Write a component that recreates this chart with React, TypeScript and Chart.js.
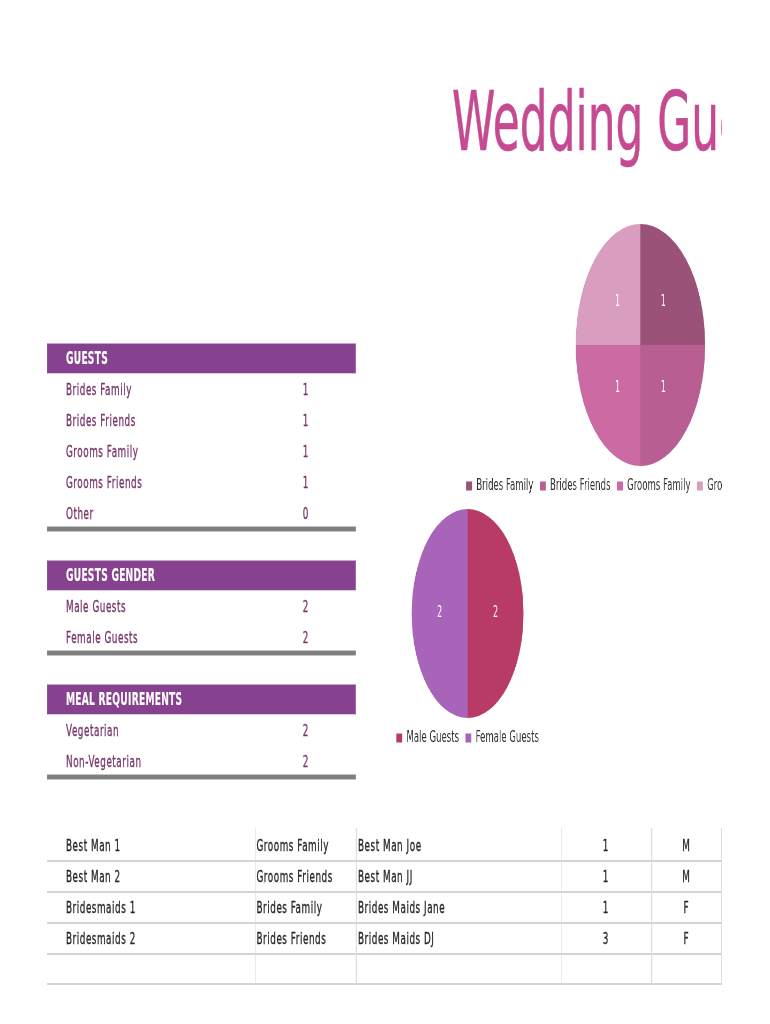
import React, { useEffect, useRef } from "react";
import { Chart, registerables } from "chart.js";
Chart.register(...registerables);

const S = 0.535; // horizontal squash of the whole page

const guestCategories = ["Brides Family", "Brides Friends", "Grooms Family", "Grooms Friends", "Other"];
const guestValues = [1, 1, 1, 1, 0];
const guestColors = ["#9b5279", "#b95e92", "#cc6aa3", "#d99dc0", "#e7bcd5"];

const genderCategories = ["Male Guests", "Female Guests"];
const genderValues = [2, 2];
const genderColors = ["#b83a66", "#a864b9"];

const mealCategories = ["Vegetarian", "Non-Vegetarian"];
const mealValues = [2, 2];

const partyRoles = ["Best Man 1", "Best Man 2", "Bridesmaids 1", "Bridesmaids 2"];
const partySides = ["Grooms Family", "Grooms Friends", "Brides Family", "Brides Friends"];
const partyNames = ["Best Man Joe", "Best Man JJ", "Brides Maids Jane", "Brides Maids DJ"];
const partyCounts = [1, 1, 1, 3];
const partyGenders = ["M", "M", "F", "F"];

const FONT = "'DejaVu Sans', sans-serif";
const ROW_COLOR = "#763468";
const HEADER_BG = "#86418f";

const valueLabels = {
  id: "valueLabels",
  afterDatasetsDraw(chart: any) {
    const ctx = chart.ctx;
    const ds = chart.data.datasets[0];
    const meta = chart.getDatasetMeta(0);
    ctx.save();
    ctx.font = "15px 'DejaVu Sans'";
    ctx.fillStyle = "#ffffff";
    ctx.textAlign = "center";
    ctx.textBaseline = "middle";
    meta.data.forEach((arc: any, i: number) => {
      const v = ds.data[i];
      if (!v) return;
      const p = arc.tooltipPosition(false);
      ctx.fillText(String(v), p.x, p.y);
    });
    ctx.restore();
  },
};

function Pie(props: { labels: string[]; values: number[]; colors: string[]; cx: number; top: number; w: number; h: number }) {
  const ref = useRef<HTMLCanvasElement>(null);
  useEffect(() => {
    const chart = new Chart(ref.current as HTMLCanvasElement, {
      type: "pie",
      data: {
        labels: props.labels,
        datasets: [
          {
            data: props.values,
            backgroundColor: props.colors,
            borderWidth: 0,
            hoverOffset: 0,
          },
        ],
      },
      options: {
        responsive: false,
        animation: false,
        layout: { padding: 0 },
        plugins: {
          tooltip: { enabled: false },
          legend: {
            display: true,
            position: "bottom",
            labels: {
              font: { family: "'DejaVu Sans'", size: 16 },
              color: "#333333",
              boxWidth: 11,
              boxHeight: 9,
              padding: 12,
            },
          },
        },
      },
      plugins: [valueLabels],
    } as any);
    return () => chart.destroy();
  }, []);
  const left = props.cx / S - props.w / 2;
  return (
    <canvas
      ref={ref}
      width={props.w}
      height={props.h}
      style={{ position: "absolute", left, top: props.top, width: props.w, height: props.h }}
    />
  );
}

function T(props: { x: number; y: number; size: number; color: string; bold?: boolean; ls?: number; center?: boolean; stroke?: number; children: any }) {
  const { x, y, size, color, bold, ls, center } = props;
  const stroke = props.stroke ?? 0.35;
  const style: any = {
    position: "absolute",
    top: y - 0.846 * size,
    fontSize: size,
    lineHeight: `${size}px`,
    fontFamily: FONT,
    color,
    fontWeight: bold ? 700 : 400,
    letterSpacing: ls ?? 0,
    whiteSpace: "nowrap",
    WebkitTextStroke: `${stroke}px ${color}`,
  };
  if (center) {
    style.left = x / S - 100;
    style.width = 200;
    style.textAlign = "center";
  } else {
    style.left = x / S;
  }
  return <div style={style}>{props.children}</div>;
}

function R(props: { x: number; y: number; w: number; h: number; bg: string; extra?: any }) {
  return (
    <div
      style={{
        position: "absolute",
        left: props.x / S,
        top: props.y,
        width: props.w / S,
        height: props.h,
        background: props.bg,
        ...(props.extra || {}),
      }}
    />
  );
}

function Section(props: { title: string; top: number; labels: string[]; values: number[]; lineY: number }) {
  return (
    <>
      <R x={47.3} y={props.top} w={308.7} h={31} bg={HEADER_BG} extra={{ borderTop: "1px solid #c9a7cf", borderBottom: "1px solid #dcc8df", boxSizing: "border-box" }} />
      <T x={66} y={props.top + 22} size={17} color="#ffffff" bold ls={0.5} stroke={0.2}>
        {props.title}
      </T>
      {props.labels.map((l, i) => (
        <React.Fragment key={l}>
          <T x={66} y={props.top + 53 + i * 31} size={16.5} color={ROW_COLOR} ls={1}>
            {l}
          </T>
          <T x={305.5} y={props.top + 53 + i * 31} size={16.5} color={ROW_COLOR} center>
            {props.values[i]}
          </T>
        </React.Fragment>
      ))}
      <R x={47.3} y={props.lineY - 1} w={308.7} h={6} bg="#c4c4c4" />
      <R x={47.3} y={props.lineY} w={308.7} h={4} bg="#7f7f7f" />
    </>
  );
}

export default function App() {
  const rowLines = [861, 892, 923, 954, 984];
  const colLines = [255, 356, 561, 651, 721];
  return (
    <div style={{ position: "absolute", left: 0, top: 0, width: 722, height: 1024, overflow: "hidden", background: "#fff" }}>
      <div
        style={{
          position: "absolute",
          left: 0,
          top: 0,
          width: 722 / S,
          height: 1024,
          transform: `scaleX(${S})`,
          transformOrigin: "0 0",
        }}
      >
        <T x={452} y={150} size={82} color="#c54a91" stroke={0.6}>
          Wedding Guests
        </T>

        <Pie labels={guestCategories} values={guestValues} colors={guestColors} cx={640.5} top={224} w={760} h={280} />
        <Pie labels={genderCategories} values={genderValues} colors={genderColors} cx={467.5} top={509} w={400} h={247} />

        <Section title="GUESTS" top={342.5} labels={guestCategories} values={guestValues} lineY={527} />
        <Section title="GUESTS GENDER" top={559.5} labels={genderCategories} values={genderValues} lineY={651} />
        <Section title="MEAL REQUIREMENTS" top={683.5} labels={mealCategories} values={mealValues} lineY={775} />

        {rowLines.map((y) => (
          <R key={"h" + y} x={47} y={y - 1} w={675} h={2} bg="#d4d4d4" />
        ))}
        {colLines.map((x) => (
          <R key={"v" + x} x={x} y={828} w={1} h={156} bg="#dadada" />
        ))}
        {partyRoles.map((r, i) => {
          const y = 852 + i * 31;
          return (
            <React.Fragment key={r}>
              <T x={66} y={y} size={16.5} color="#262626" ls={1}>
                {r}
              </T>
              <T x={256.5} y={y} size={16.5} color="#262626" ls={1}>
                {partySides[i]}
              </T>
              <T x={358} y={y} size={16.5} color="#262626" ls={1}>
                {partyNames[i]}
              </T>
              <T x={605.5} y={y} size={16.5} color="#262626" center>
                {partyCounts[i]}
              </T>
              <T x={686} y={y} size={16.5} color="#262626" center>
                {partyGenders[i]}
              </T>
            </React.Fragment>
          );
        })}
      </div>
    </div>
  );
}
